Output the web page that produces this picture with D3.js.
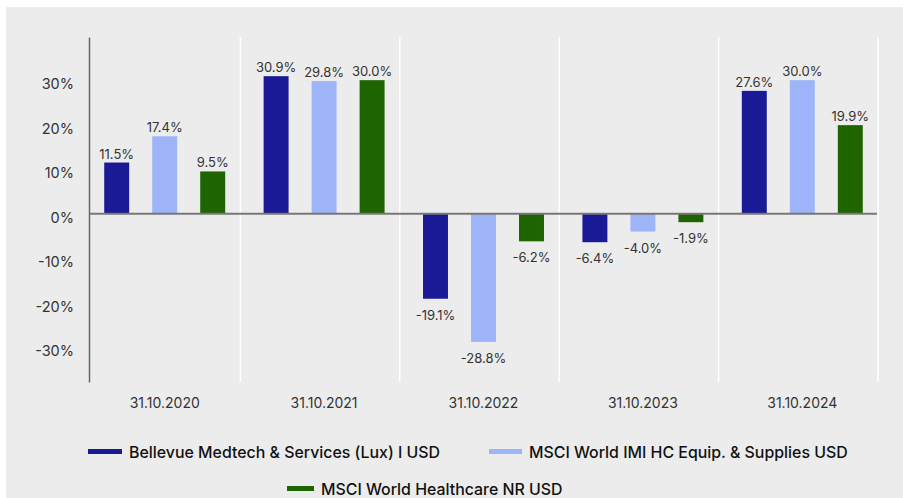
<!DOCTYPE html>
<html>
<head>
<meta charset="utf-8">
<script src="https://cdn.jsdelivr.net/npm/d3@7"></script>
<style>
  body { margin: 0; background: #fff; }
  svg text { font-family: Inter, "Noto Sans", sans-serif; }
</style>
</head>
<body>
<svg id="chart" width="903" height="498"></svg>
<script>
// data
const years = ["31.10.2020", "31.10.2021", "31.10.2022", "31.10.2023", "31.10.2024"];
const seriesNames = ["Bellevue Medtech & Services (Lux) I USD", "MSCI World IMI HC Equip. & Supplies USD", "MSCI World Healthcare NR USD"];
const bellevue = [11.5, 30.9, -19.1, -6.4, 27.6];
const msciEquip = [17.4, 29.8, -28.8, -4.0, 30.0];
const msciHealth = [9.5, 30.0, -6.2, -1.9, 19.9];
const yTicks = [-30, -20, -10, 0, 10, 20, 30];
const colors = ["#1a1a96", "#9db5f8", "#1e6400"];

const allSeries = [bellevue, msciEquip, msciHealth];

const svg = d3.select("#chart");

// gray panel
svg.append("rect")
  .attr("x", 6).attr("y", 7)
  .attr("width", 897).attr("height", 491)
  .attr("fill", "#ececec");

const x0 = d3.scaleBand().domain(years).range([85, 882]);
const x1 = d3.scaleBand().domain(d3.range(3)).range([-72, 72])
  .paddingInner(0.48).paddingOuter(0.24);
const y = d3.scaleLinear().domain([-37.8, 39.7]).range([382, 37]);

// white separators between years
svg.append("g").selectAll("line")
  .data(years)
  .enter().append("line")
  .attr("x1", d => x0(d) + x0.step() - 4)
  .attr("x2", d => x0(d) + x0.step() - 4)
  .attr("y1", y(39.7)).attr("y2", y(-37.8))
  .attr("stroke", "#fff")
  .attr("stroke-width", 1.5);

// y axis
const yAxis = d3.axisLeft(y).tickValues(yTicks).tickSize(0).tickPadding(15)
  .tickFormat(d => d + "%");
const gy = svg.append("g").attr("transform", "translate(89,0)").call(yAxis);
gy.select(".domain").attr("stroke", "#666").attr("stroke-width", 1.5);
gy.selectAll("text").attr("font-size", 14.5).attr("fill", "#333")
  .attr("dy", "0.6em")
  .attr("font-family", "Inter, sans-serif");

// bars
const rows = [];
years.forEach((yr, i) => {
  allSeries.forEach((s, j) => rows.push({ yr, j, v: s[i] }));
});

const bx = d => x0(d.yr) + x0.bandwidth() / 2 + x1(d.j);

svg.append("g").selectAll("rect")
  .data(rows)
  .enter().append("rect")
  .attr("x", bx)
  .attr("width", x1.bandwidth())
  .attr("y", d => y(Math.max(0, d.v)))
  .attr("height", d => Math.abs(y(d.v) - y(0)))
  .attr("fill", d => colors[d.j]);

// value labels
svg.append("g").selectAll("text")
  .data(rows)
  .enter().append("text")
  .attr("x", d => bx(d) + x1.bandwidth() / 2)
  .attr("y", d => d.v >= 0 ? y(d.v) - 4 : y(d.v) + 21)
  .attr("text-anchor", "middle")
  .attr("font-size", 13)
  .attr("fill", "#333")
  .text(d => d.v.toFixed(1) + "%");

// zero line
svg.append("line")
  .attr("x1", 89).attr("x2", 877)
  .attr("y1", y(0)).attr("y2", y(0))
  .attr("stroke", "#777").attr("stroke-width", 2);

// x labels
svg.append("g").selectAll("text")
  .data(years)
  .enter().append("text")
  .attr("x", d => x0(d) + x0.bandwidth() / 2)
  .attr("y", 408)
  .attr("text-anchor", "middle")
  .attr("font-size", 14)
  .attr("fill", "#333")
  .text(d => d);

// legend
const legendPos = [[88, 452, 34], [489, 452, 33], [287, 489, 27]];
seriesNames.forEach((name, j) => {
  const [lx, ly, sw] = legendPos[j];
  const g = svg.append("g").attr("transform", `translate(${lx}, ${ly})`);
  g.append("rect")
    .attr("x", 0).attr("y", -3)
    .attr("width", sw).attr("height", 5)
    .attr("fill", colors[j]);
  g.append("text")
    .attr("x", sw + 7).attr("y", 5.5)
    .attr("font-size", 15.9)
    .attr("font-weight", 500)
    .attr("fill", "#111")
    .text(name);
});
</script>
</body>
</html>
